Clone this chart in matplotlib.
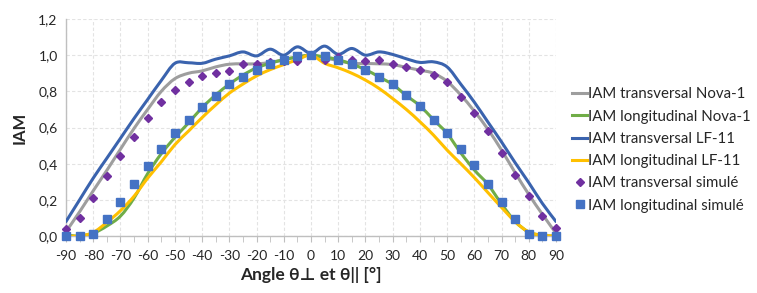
import numpy as np
import matplotlib
matplotlib.use("Agg")
import matplotlib.pyplot as plt
from matplotlib.path import Path
from matplotlib.patches import PathPatch
from matplotlib.lines import Line2D

plt.rcParams['font.family'] = ['Lato', 'DejaVu Sans']
plt.rcParams['axes.unicode_minus'] = False

# angles every 5 degrees, -90 .. 90
angles = list(range(-90, 95, 5))

trans_nova = [0.024, 0.134, 0.25, 0.363, 0.48, 0.595, 0.70, 0.80, 0.87, 0.90, 0.913, 0.935,
              0.95, 0.952, 0.952, 0.96, 0.975, 0.99, 1.0,
              0.985, 0.97, 0.955, 0.954, 0.952, 0.948, 0.932, 0.917, 0.90, 0.855, 0.78,
              0.69, 0.59, 0.475, 0.35, 0.23, 0.12, 0.015]
long_nova = [0.005, 0.0, 0.015, 0.055, 0.11, 0.21, 0.345, 0.455, 0.545, 0.625, 0.71, 0.78,
             0.84, 0.89, 0.93, 0.955, 0.975, 0.99, 1.0,
             0.99, 0.975, 0.95, 0.92, 0.88, 0.838, 0.777, 0.72, 0.643, 0.567, 0.46,
             0.365, 0.285, 0.177, 0.08, 0.022, 0.003, 0.0]
trans_lf11 = [0.08, 0.20, 0.32, 0.43, 0.54, 0.65, 0.755, 0.86, 0.955, 0.958, 0.955, 0.978,
              0.996, 1.018, 0.996, 1.033, 1.0, 1.046, 1.01,
              1.05, 1.005, 1.037, 1.0, 1.018, 1.004, 0.98, 0.96, 0.963, 0.935, 0.84,
              0.74, 0.63, 0.52, 0.405, 0.295, 0.18, 0.08]
long_lf11 = [0.0, 0.0, 0.02, 0.075, 0.14, 0.22, 0.32, 0.41, 0.505, 0.58, 0.655, 0.725,
             0.79, 0.84, 0.885, 0.92, 0.948, 0.975, 1.0,
             0.955, 0.93, 0.90, 0.862, 0.816, 0.76, 0.70, 0.632, 0.558, 0.475, 0.40,
             0.323, 0.24, 0.158, 0.079, 0.022, 0.004, 0.0]
trans_sim = [0.04, 0.10, 0.21, 0.33, 0.44, 0.55, 0.65, 0.74, 0.81, 0.85, 0.885, 0.90,
             0.915, 0.95, 0.95, 0.96, 0.97, 0.97, 1.0,
             0.976, 0.99, 0.976, 0.97, 0.976, 0.95, 0.935, 0.92, 0.89, 0.85, 0.77,
             0.68, 0.58, 0.46, 0.34, 0.22, 0.11, 0.044]
long_sim = [0.0, 0.0, 0.01, 0.095, 0.19, 0.285, 0.385, 0.48, 0.567, 0.643, 0.714, 0.775,
            0.838, 0.88, 0.92, 0.95, 0.975, 0.994, 1.0,
            0.994, 0.975, 0.95, 0.92, 0.88, 0.838, 0.777, 0.72, 0.643, 0.567, 0.48,
            0.39, 0.285, 0.19, 0.095, 0.01, 0.0, 0.0]

labels = ["IAM transversal Nova-1", "IAM longitudinal Nova-1",
          "IAM transversal LF-11", "IAM longitudinal LF-11",
          "IAM transversal simulé", "IAM longitudinal simulé"]
c_gray, c_green, c_blue, c_yellow = "#9E9E9E", "#70AD47", "#3A63AE", "#FFC000"
c_purple, c_square = "#7030A0", "#4472C4"


def smooth_path(xs, ys):
    # Excel-like smoothed line: Catmull-Rom segments as cubic Bezier curves
    p = np.column_stack([xs, ys]).astype(float)
    verts = [p[0]]
    codes = [Path.MOVETO]
    n = len(p)
    for i in range(n - 1):
        p0 = p[i - 1] if i > 0 else p[i]
        p3 = p[i + 2] if i + 2 < n else p[i + 1]
        c1 = p[i] + (p[i + 1] - p0) / 6
        c2 = p[i + 1] - (p3 - p[i]) / 6
        verts += [c1, c2, p[i + 1]]
        codes += [Path.CURVE4] * 3
    return Path(verts, codes)


fig = plt.figure(figsize=(7.57, 2.93), dpi=100)
ax = fig.add_axes([66 / 757, 1 - 236 / 293, 490 / 757, 217 / 293])

for ys, col in [(trans_nova, c_gray), (long_nova, c_green), (trans_lf11, c_blue), (long_lf11, c_yellow)]:
    ax.add_patch(PathPatch(smooth_path(angles, ys), facecolor="none", edgecolor=col,
                           lw=2.2, capstyle="round", joinstyle="round", zorder=3))

ax.plot(angles, trans_sim, linestyle="none", marker="D", ms=4.2, color=c_purple, zorder=4, clip_on=False)
ax.plot(angles, long_sim, linestyle="none", marker="s", ms=6, color=c_square, zorder=5, clip_on=False)

ax.set_xlim(-90, 90)
ax.set_ylim(0, 1.2)
ax.set_xticks(range(-90, 95, 10))
ax.set_xticks(range(-85, 90, 10), minor=True)
ax.set_yticks(np.arange(0, 1.21, 0.2))
ax.set_yticklabels([f"{v:.1f}".replace(".", ",") for v in np.arange(0, 1.21, 0.2)])
ax.tick_params(axis="x", which="both", direction="out", length=4, color="#BFBFBF",
               labelsize=10, labelcolor="#262626", pad=6)
ax.tick_params(axis="y", length=0, labelsize=10, labelcolor="#262626", pad=6)
ax.grid(True, which="major", color="#E3E3E3", linestyle=(0, (3, 2)), lw=0.8)
ax.set_axisbelow(True)
for s in ["top", "right"]:
    ax.spines[s].set_visible(False)
for s in ["left", "bottom"]:
    ax.spines[s].set_color("#BFBFBF")
    ax.spines[s].set_linewidth(1.0)

ax.set_xlabel("Angle θ⊥ et θ|| [°]", fontsize=12.5, fontweight="bold", color="#262626", labelpad=4)
ax.set_ylabel("IAM", fontsize=12, fontweight="bold", color="#262626", labelpad=8)

handles = [Line2D([], [], color=c, lw=2.2) for c in [c_gray, c_green, c_blue, c_yellow]]
handles.append(Line2D([], [], linestyle="none", marker="D", ms=4.2, color=c_purple))
handles.append(Line2D([], [], linestyle="none", marker="s", ms=6, color=c_square))
fig.legend(handles, labels, loc="center left", bbox_to_anchor=(572 / 757, 1 - 150 / 293),
           frameon=False, fontsize=10.8, handlelength=1.0, handletextpad=0.1,
           labelspacing=0.55, borderpad=0, borderaxespad=0, labelcolor="#262626")

fig.savefig("out.png", dpi=100)
